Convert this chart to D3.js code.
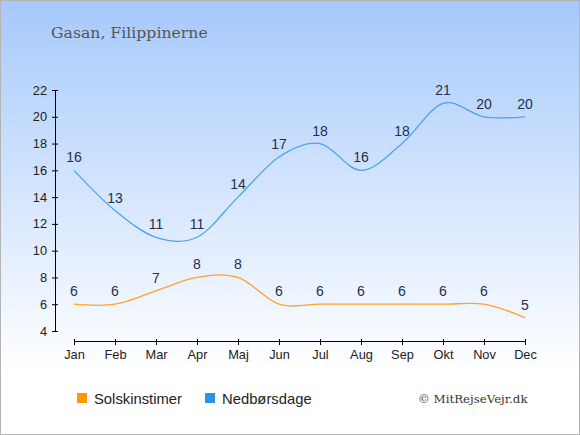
<!DOCTYPE html>
<html><head><meta charset="utf-8">
<script src="https://cdn.jsdelivr.net/npm/d3@7"></script>
<style>html,body{margin:0;padding:0;background:#fff;}svg{display:block;}</style>
</head><body>
<script>
const months = ["Jan","Feb","Mar","Apr","Maj","Jun","Jul","Aug","Sep","Okt","Nov","Dec"];
const sunHours = [6,6,7,8,8,6,6,6,6,6,6,5];
const rainDays = [16,13,11,11,14,17,18,16,18,21,20,20];
const yTicks = [4,6,8,10,12,14,16,18,20,22];
const title = "Gasan, Filippinerne";
const seriesNames = ["Solskinstimer","Nedbørsdage"];
const credit = "© MitRejseVejr.dk";

const W = 580, H = 435;
const svg = d3.select("body").append("svg").attr("width", W).attr("height", H);
const defs = svg.append("defs");
const g = defs.append("linearGradient").attr("id","bg").attr("x1",0).attr("y1",0).attr("x2",0).attr("y2",1);
g.append("stop").attr("offset","0%").attr("stop-color","#a6c9fb");
g.append("stop").attr("offset","85%").attr("stop-color","#ffffff");
g.append("stop").attr("offset","100%").attr("stop-color","#ffffff");
svg.append("rect").attr("x",0.5).attr("y",0.5).attr("width",W-1).attr("height",H-1)
  .attr("fill","url(#bg)").attr("stroke","#b4b4b4");

svg.append("text").attr("x",51).attr("y",38).text(title)
  .attr("font-family","'DejaVu Serif', serif").attr("font-size",15.7).attr("fill","#555");

const x = d3.scalePoint().domain(months).range([74,525]);
const y = d3.scaleLinear().domain([4,22]).range([331,90]);

const yAxis = svg.append("g").attr("transform","translate(55,0)")
  .call(d3.axisLeft(y).tickValues(yTicks).tickSize(3).tickPadding(5).tickSizeOuter(0));
yAxis.selectAll(".tick line").attr("x2",3).attr("x1",-3);
const xAxis = svg.append("g").attr("transform","translate(0,341)")
  .call(d3.axisBottom(x).tickSize(4).tickPadding(5).tickSizeOuter(0));
xAxis.selectAll(".tick line").attr("y1",-2);
[yAxis,xAxis].forEach(a=>{
  a.select(".domain").attr("stroke","#000");
  a.selectAll(".tick line").attr("stroke","#000");
  a.selectAll("text").attr("font-family","'Liberation Sans', Arial, sans-serif").attr("font-size",12.8).attr("fill","#222");
});

const line = d3.line().x((d,i)=>x(months[i])).y(d=>y(d)).curve(d3.curveCardinal.tension(0));
const series = [
  {name:seriesNames[0], values:sunHours, line:"#ffa22a", sw:"#ff9800"},
  {name:seriesNames[1], values:rainDays, line:"#4ca3ef", sw:"#2f91e6"}
];
series.forEach(s=>{
  svg.append("path").attr("d",line(s.values)).attr("fill","none")
    .attr("stroke",s.line).attr("stroke-width",1.3);
  svg.append("g").selectAll("text").data(s.values).join("text")
    .attr("x",(d,i)=>x(months[i])).attr("y",d=>y(d)-8)
    .attr("text-anchor","middle").text(d=>d)
    .attr("font-family","'Liberation Sans', Arial, sans-serif").attr("font-size",14).attr("fill","#1d3050");
});

const legX = [77,205];
series.forEach((s,i)=>{
  svg.append("rect").attr("x",legX[i]).attr("y",393).attr("width",10).attr("height",10).attr("fill",s.sw);
  svg.append("text").attr("x",legX[i]+17).attr("y",404).text(s.name)
    .attr("font-family","'Liberation Sans', Arial, sans-serif").attr("font-size",14.8).attr("fill","#222");
});
svg.append("text").attr("x",418).attr("y",403).text(credit)
  .attr("font-family","'DejaVu Serif', serif").attr("font-size",11.8).attr("fill","#333");
</script>
</body></html>
